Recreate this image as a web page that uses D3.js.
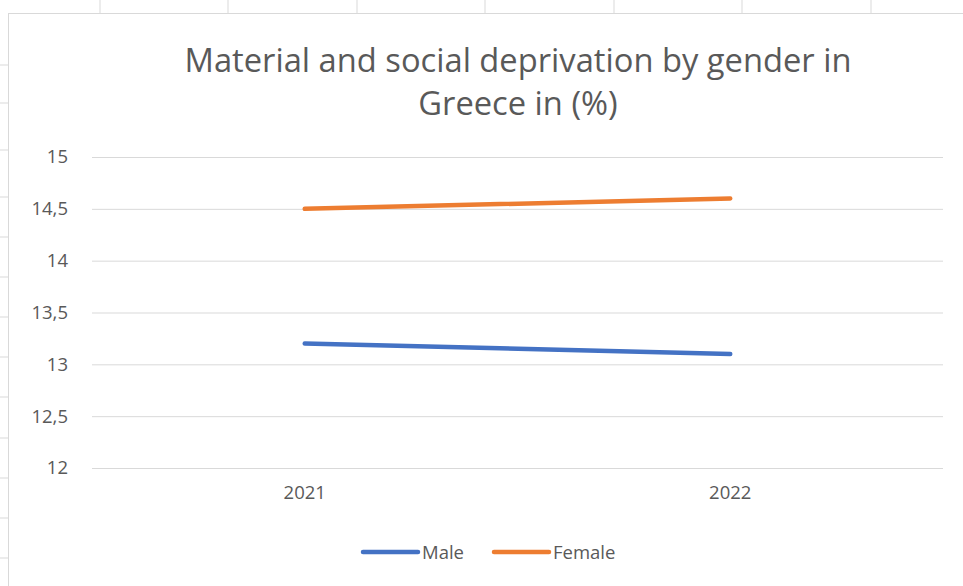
<!DOCTYPE html>
<html><head><meta charset="utf-8">
<script src="https://cdn.jsdelivr.net/npm/d3@7"></script>
<style>html,body{margin:0;padding:0;background:#fff;}svg{display:block;}</style>
</head><body>
<svg id="c" width="963" height="586"></svg>
<script>
const categories = ["2021", "2022"];
const male = [13.2, 13.1];
const female = [14.5, 14.6];
const yTicks = [12, 12.5, 13, 13.5, 14, 14.5, 15];
const seriesNames = ["Male", "Female"];
const titleLines = ["Material and social deprivation by gender in", "Greece in (%)"];

const svg = d3.select("#c");
const W = 963, H = 586;
const font = "'Open Sans', 'Liberation Sans', sans-serif";
const textColor = "#595959";
const colors = {Male: "#4472C4", Female: "#ED7D31"};
const labelSize = 18.5;

// spreadsheet cell borders behind the chart
const sheet = svg.append("g");
[100, 228, 357, 485, 614, 742, 871].forEach(x => sheet.append("line").attr("x1", x).attr("x2", x).attr("y1", 0).attr("y2", 13).attr("stroke", "#d9d9d9"));
[65, 103, 150, 197, 237, 277, 317, 357, 397, 438, 478, 518, 558].forEach(y => sheet.append("line").attr("x1", 0).attr("x2", 8).attr("y1", y).attr("y2", y).attr("stroke", "#d9d9d9"));
sheet.append("line").attr("x1", 8.5).attr("x2", 8.5).attr("y1", 13).attr("y2", H).attr("stroke", "#d9d9d9");
sheet.append("line").attr("x1", 8).attr("x2", W).attr("y1", 13.5).attr("y2", 13.5).attr("stroke", "#d9d9d9");

const x = d3.scaleBand().domain(categories).range([92, 943]);
const y = d3.scaleLinear().domain([12, 15]).range([468, 157]);

// gridlines
const yAxis = d3.axisLeft(y).tickValues(yTicks).tickSize(-(943 - 92)).tickPadding(24)
  .tickFormat(d => String(d).replace(".", ","));
const gy = svg.append("g").attr("transform", "translate(92,0)").call(yAxis);
gy.select(".domain").remove();
gy.selectAll(".tick line").attr("stroke", "#d9d9d9").attr("stroke-width", 1);
gy.selectAll(".tick text").attr("fill", textColor).attr("font-family", font).attr("font-size", labelSize);

const xAxis = d3.axisBottom(x).tickSize(0).tickPadding(18);
const gx = svg.append("g").attr("transform", "translate(0,468)").call(xAxis);
gx.select(".domain").remove();
gx.selectAll(".tick text").attr("fill", textColor).attr("font-family", font).attr("font-size", labelSize);

const line = d3.line().x((d, i) => x(categories[i]) + x.bandwidth() / 2).y(d => y(d));
[["Male", male], ["Female", female]].forEach(([name, vals]) => {
  svg.append("path").datum(vals).attr("d", line).attr("fill", "none")
    .attr("stroke", colors[name]).attr("stroke-width", 4.5).attr("stroke-linecap", "round");
});

// title
const t1 = svg.append("text").attr("x", 518).attr("y", 72).attr("text-anchor", "middle")
  .attr("fill", textColor).attr("font-family", font).attr("font-size", 28).text(titleLines[0]);
const w1 = t1.node().getComputedTextLength();
const fs = 28 * 667 / w1;
t1.attr("font-size", fs);
svg.append("text").attr("x", 518).attr("y", 115).attr("text-anchor", "middle")
  .attr("fill", textColor).attr("font-family", font).attr("font-size", fs).text(titleLines[1]);

// legend
const legendX = {Male: 363, Female: 494};
seriesNames.forEach(name => {
  const lx = legendX[name];
  svg.append("line").attr("x1", lx).attr("x2", lx + 55).attr("y1", 552).attr("y2", 552)
    .attr("stroke", colors[name]).attr("stroke-width", 4.5).attr("stroke-linecap", "round");
  svg.append("text").attr("x", lx + 59).attr("y", 558.5).attr("fill", textColor)
    .attr("font-family", font).attr("font-size", labelSize).text(name);
});
</script>
</body></html>
